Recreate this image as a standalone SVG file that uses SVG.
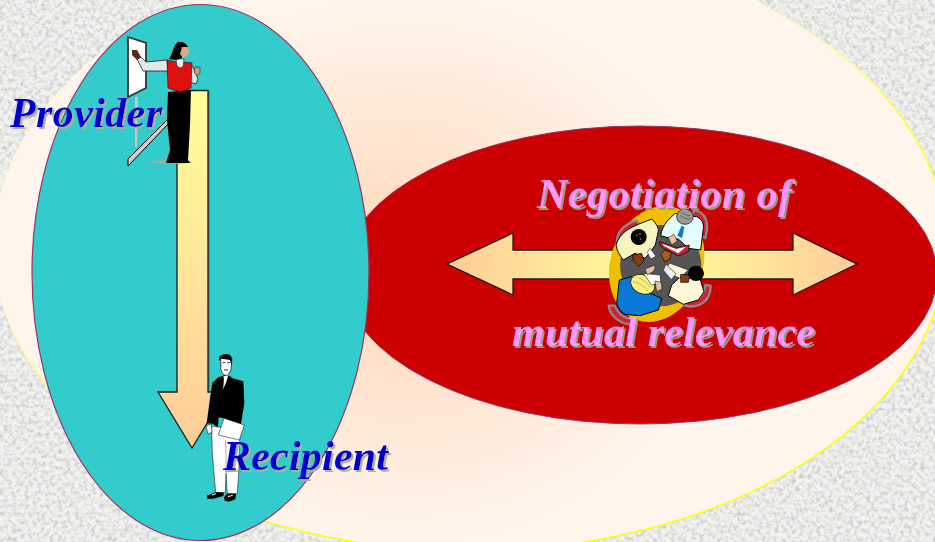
<svg xmlns="http://www.w3.org/2000/svg" width="935" height="542" viewBox="0 0 935 542">
<style>
.lbl{font-family:"Liberation Serif","Times New Roman",serif;font-weight:bold;font-style:italic}
.blue{fill:#0000cc;font-size:42px;filter:url(#shB)}
.pink{fill:#ff99ff;font-size:42px;filter:url(#shP)}
.arrow{stroke:#1a1a1a;stroke-width:1.3}
.k{fill:#000}
.o{stroke:#000;stroke-width:3;stroke-linejoin:round}
.chair{fill:#cc2233;stroke:#8a8a8a;stroke-width:7;stroke-linejoin:round}
</style>
<defs>
<filter id="granite" x="0" y="0" width="100%" height="100%">
<feTurbulence type="fractalNoise" baseFrequency="0.24" numOctaves="3" seed="7"/>
<feColorMatrix type="matrix" values="0 0 0 0 0.5  0 0 0 0 0.5  0 0 0 0 0.49  1.8 0 0 0 -0.72"/>
<feGaussianBlur stdDeviation="0.5"/>
<feComposite in2="SourceGraphic" operator="over"/>
</filter>
<filter id="shB" x="-5%" y="-10%" width="115%" height="130%">
<feDropShadow dx="2" dy="2" stdDeviation="0.4" flood-color="#b0b090"/>
</filter>
<filter id="shP" x="-5%" y="-10%" width="115%" height="130%">
<feDropShadow dx="2" dy="2" stdDeviation="0.3" flood-color="#9a9a80"/>
</filter>
<radialGradient id="cream" gradientUnits="userSpaceOnUse" cx="400" cy="270" r="320" gradientTransform="translate(400 270) scale(1 .85) translate(-400 -270)">
<stop offset="0" stop-color="#ffcfa6"/><stop offset=".35" stop-color="#ffe2cc"/><stop offset="1" stop-color="#fff5ec"/>
</radialGradient>
<linearGradient id="rim" gradientUnits="userSpaceOnUse" x1="640" y1="60" x2="780" y2="420">
<stop offset="0" stop-color="#fff8dc"/><stop offset=".35" stop-color="#ffff40"/><stop offset="1" stop-color="#ffff00"/>
</linearGradient>
<linearGradient id="down" x1="0" y1="0" x2="0" y2="1">
<stop offset="0" stop-color="#ffff99"/><stop offset="1" stop-color="#ffcc99"/>
</linearGradient>
<linearGradient id="across" x1="0" y1="0" x2="1" y2="0">
<stop offset="0" stop-color="#ffcc99"/><stop offset=".5" stop-color="#ffff99"/><stop offset="1" stop-color="#ffcc99"/>
</linearGradient>
</defs>

<rect id="background" width="935" height="542" fill="#f2f2f0" filter="url(#granite)"/>

<g id="context">
<ellipse cx="470" cy="246" rx="476" ry="305" fill="url(#cream)" stroke="url(#rim)" stroke-width="1.5"/>
</g>

<g id="negotiation">
<ellipse cx="640" cy="275" rx="297" ry="149" fill="#cc0000" stroke="#993366"/>
</g>

<g id="people-pool">
<ellipse cx="200.500" cy="272.500" rx="168.500" ry="268" fill="#33cccc" stroke="#993366" stroke-width="1.200"/>
</g>

<g id="connectors">
<path d="M209 91V392" stroke="#5f7f7f" stroke-width="1.500"/>
<path class="arrow" fill="url(#down)" d="M177 90.500H208V392H226L192 448L158 392H177Z"/>
<path class="arrow" fill="url(#across)" d="M447 264L513 233V250H793V233L857 264L793 295V279H513V295Z"/>
</g>

<g id="provider">
<path d="M135 97h3l-1 50h-2z" fill="#c8c8c8"/>
<path d="M128 159L170 117V122L128 166Z" fill="#d0d0d0" stroke="#000" stroke-width="1"/>
<path d="M128 37L146 43V88L128 97Z" fill="#fff" stroke="#333" stroke-width="1.800"/>
<ellipse cx="171" cy="162" rx="21" ry="1.800" fill="#a8a8a8"/>
<path class="k" d="M168 92L191 90L190 125L188 160L190 163H166L170 150L167 120Z"/>
<path d="M167 60L146 62L141 57L137 59L143 71L168 71Z" fill="#dfe9e9" stroke="#222" stroke-width=".8"/>
<path d="M132 50L137 50L141 57L137 60L132 55Z" fill="#5a2a1a"/>
<path d="M190 63L193 67L198 79L196 84L190 82Z" fill="#dfe9e9" stroke="#222" stroke-width=".8"/>
<path d="M195 67L200 67L200 73L197 76L194 72Z" fill="#c89a78" stroke="#222" stroke-width=".6"/>
<path d="M167 60L176 62L180 66L184 62L192 63L191 88L180 92L168 88Z" fill="#e01010" stroke="#300" stroke-width=".6"/>
<path d="M176 59L184 59L183 67L180 68L177 66Z" fill="#e8f0f0" stroke="#222" stroke-width=".6"/>
<path d="M178 42C184 41 187 45 188 47L182 48L182 58L176 60L169 59C173 54 173 45 178 42Z" fill="#000"/>
<path d="M182 47L188 47L189 52L187 56L183 58L180 54Z" fill="#d8a988"/>
</g>

<g id="recipient" transform="translate(150 340) scale(.33333)">
<path d="M185 258L270 270L267 380L262 460L232 462L228 400L226 458L197 458L187 340Z" fill="#fff" stroke="#000" stroke-width="1.500"/>
<path d="M227 300L229 400" stroke="#000" stroke-width="1"/>
<path class="k" d="M205 112L232 103L248 115L280 124L283 190L271 265L228 236L206 232L204 262L188 251L170 250L180 175L187 128Z"/>
<path d="M219 110L236 103L228 128L218 150Z" fill="#fff"/>
<path d="M217 113L222 112L220 142L214 152Z" fill="#000"/>
<path d="M213 74L211 52C222 40 240 44 246 56L243 88C240 100 232 108 225 106C216 102 210 90 213 74Z" fill="#fff" stroke="#000" stroke-width="2"/>
<path class="k" d="M207 62C204 46 222 40 234 43C246 45 248 60 244 74L240 60L215 56Z"/>
<path d="M218 68h8M232 68h8M222 90h12" stroke="#000" stroke-width="2.500"/>
<path d="M222 235L283 255L268 300L205 285Z" fill="#fff" stroke="#000" stroke-width="1.500"/>
<path d="M168 258L184 252L186 276L174 282Z" fill="#fff" stroke="#000" stroke-width="1.500"/>
<path class="k" d="M170 467L198 456L222 458L220 468L190 476H172Z"/>
<path class="k" d="M222 472L232 460L258 462L256 478L236 485L224 482Z"/>
<path d="M186 465l12-4M234 470l14-4" stroke="#fff" stroke-width="3"/>
</g>

<g id="meeting" transform="translate(590 195) scale(.33333)">
<ellipse cx="200" cy="207" rx="138" ry="178" fill="#f0c000" transform="rotate(20 200 207)"/>
<circle cx="212" cy="212" r="122" fill="#555"/>
<path class="chair" d="M82 150C76 115 100 88 140 76L150 92C118 102 100 120 96 148Z"/>
<path class="chair" d="M312 46C345 50 360 80 346 130L332 122C340 92 332 72 306 62Z"/>
<path class="chair" d="M56 332C60 365 95 392 135 388L132 372C105 372 85 358 74 332Z"/>
<path class="chair" d="M285 332C325 342 362 320 362 272L346 270C344 302 320 320 290 318Z"/>
<path class="o" d="M78 150C85 125 105 105 130 95C150 85 170 78 185 72C198 85 206 98 205 108L196 150L178 175L165 190L135 175L100 195C88 180 80 165 78 150Z" fill="#f8f4c0"/>
<circle cx="146" cy="126" r="24" fill="#000"/>
<circle cx="140" cy="120" r="1.800" fill="#fff"/><circle cx="152" cy="132" r="1.800" fill="#fff"/><circle cx="150" cy="116" r="1.800" fill="#fff"/>
<path d="M128 180L155 175L162 198L146 214L130 198Z" fill="#8a3a10" stroke="#000" stroke-width="2"/>
<path d="M180 160L198 184L182 192L172 172Z" fill="#fff" stroke="#000" stroke-width="1.500"/>
<path class="o" d="M255 55L320 65C335 72 342 85 340 100L332 165L295 160L265 132L240 130L212 122C214 105 222 92 230 80Z" fill="#e4fbff"/>
<path d="M275 92L283 96L276 130L262 122Z" fill="#0a7ad0"/>
<ellipse cx="285" cy="65" rx="25" ry="23" fill="#9a9a9a" stroke="#000" stroke-width="2"/>
<path d="M270 60c8 10 22 14 32 12M275 50c4 6 14 12 26 12" stroke="#444" fill="none" stroke-width="2"/>
<path d="M208 140L260 158L298 150L295 170L265 183L212 155Z" fill="#cc2233" stroke="#000" stroke-width="2"/>
<path d="M218 146L258 162L288 155L265 175L222 153Z" fill="#fff"/>
<path d="M235 128L252 118L262 138L245 150Z" fill="#e8c0a0" stroke="#000" stroke-width="1.500"/>
<path d="M212 178L224 165L244 172L240 192L224 200Z" fill="#a85a18" stroke="#000" stroke-width="2"/>
<path class="o" d="M88 255L125 245L170 290L215 310L205 345L150 362L105 358C90 350 82 335 80 325Z" fill="#0a78d8"/>
<ellipse cx="158" cy="268" rx="38" ry="28" fill="#f8f080" stroke="#000" stroke-width="2" transform="rotate(25 158 268)"/>
<path d="M130 260c15 2 35 15 45 30M145 248c10 4 25 14 35 28" stroke="#b09030" fill="none" stroke-width="2"/>
<path d="M160 235L210 240L212 262L185 270Z" fill="#fff" stroke="#000" stroke-width="1.500"/>
<path d="M165 222L196 210L192 228L172 240Z" fill="#e8c0a0" stroke="#000" stroke-width="1.500"/>
<path d="M195 258L214 262L216 282L200 290Z" fill="#e8c0a0" stroke="#000" stroke-width="1.500"/>
<path class="o" d="M268 248L330 250L342 290L325 315L280 328L235 302L245 270Z" fill="#fff8d8"/>
<path d="M240 205L295 225L268 250L222 225Z" fill="#fff8d8" stroke="#000" stroke-width="1.500"/>
<path d="M272 238L300 240L295 262L272 262Z" fill="#8a3a10" stroke="#000" stroke-width="2"/>
<ellipse cx="318" cy="235" rx="24" ry="23" fill="#000"/>
<path d="M228 208L258 236L244 254L220 226Z" fill="#eee" stroke="#000" stroke-width="1.500"/>
</g>

<g id="labels">
<text class="lbl blue" x="10" y="127" textLength="152" lengthAdjust="spacing">Provider</text>
<text class="lbl blue" x="223" y="470" textLength="165" lengthAdjust="spacing">Recipient</text>
<text class="lbl pink" x="537" y="208" textLength="255" lengthAdjust="spacing">Negotiation of</text>
<text class="lbl pink" x="512" y="346" textLength="303" lengthAdjust="spacing">mutual relevance</text>
</g>
</svg>
